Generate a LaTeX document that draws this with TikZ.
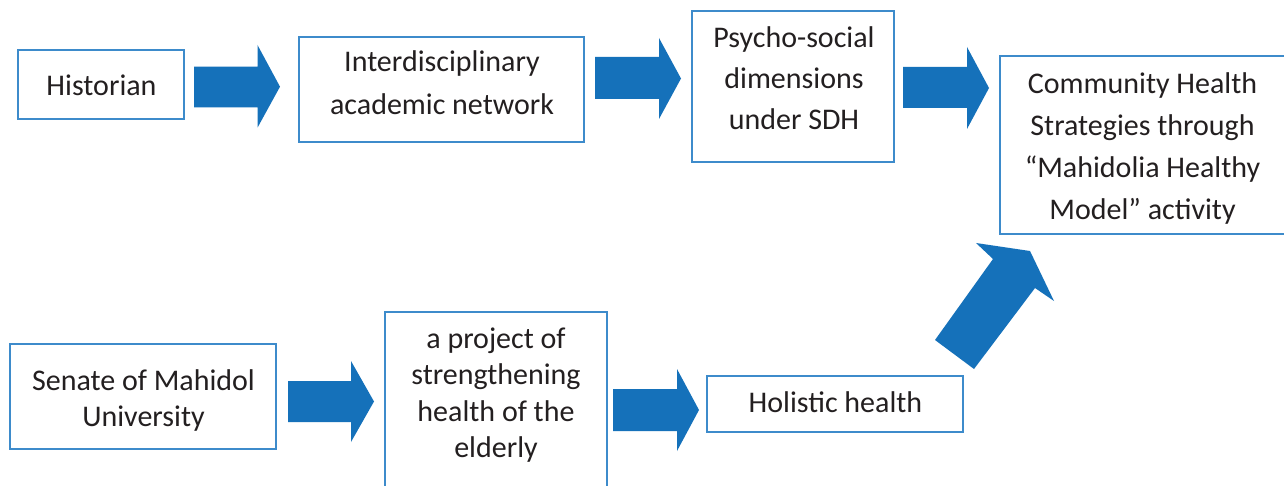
\documentclass[tikz,border=0pt]{standalone}
\usepackage{fontspec}
\setmainfont{Carlito}
\definecolor{arrowblue}{HTML}{1571BA}
\definecolor{boxblue}{HTML}{3D8BCB}
\definecolor{inkgray}{HTML}{231F20}
\begin{document}
\begin{tikzpicture}[x=1pt,y=-1pt,
  box/.style={draw=boxblue,line width=1.4pt,fill=white,inner sep=0pt,outer sep=0pt},
  label/.style={inner sep=0pt,align=center,text=inkgray},
  wide/.style={label,font=\fontsize{30}{42}\selectfont},
  tight/.style={label,font=\fontsize{30}{36.6}\selectfont},
  blockarrow/.style={fill=arrowblue,draw=none}]
\clip (0,0) rectangle (1284,486);
\fill[white] (0,0) rectangle (1284,486);

% boxes (corner coordinates in pixel units)
\draw[box] (18,50) rectangle (184,119) node[pos=0.5,inner sep=0pt] (historianbox) {};
\draw[box] (299,37) rectangle (584,142) node[pos=0.5,inner sep=0pt] (networkbox) {};
\draw[box] (692,11) rectangle (894,162) node[pos=0.5,inner sep=0pt] (psychobox) {};
\draw[box] (1000,56) rectangle (1292,234) node[pos=0.5,inner sep=0pt] (communitybox) {};
\draw[box] (10,344) rectangle (276,449) node[pos=0.5,inner sep=0pt] (senatebox) {};
\draw[box] (385,312) rectangle (607,496) node[pos=0.5,inner sep=0pt] (projectbox) {};
\draw[box] (707,376) rectangle (963,432) node[pos=0.5,inner sep=0pt] (holisticbox) {};

% texts
\node[wide] (historian) at (101.5,85) {Historian};
\node[wide,font=\fontsize{30}{43}\selectfont] (network) at (442,83) {Interdisciplinary\\academic network};
\node[wide,font=\fontsize{30}{41.3}\selectfont] (psycho) at (794,78) {Psycho-social\\dimensions\\under SDH};
\node[wide,font=\fontsize{30}{41.7}\selectfont] (community) at (1142.5,148.5) {Community Health\\Strategies through\\“Mahidolia Healthy\\Model” activity};
\node[tight,font=\fontsize{30}{36}\selectfont] (senate) at (143.5,400.5) {Senate of Mahidol\\University};
\node[tight] (project) at (496,395) {a project of\\strengthening\\health of the\\elderly};
\node[wide] (holistic) at (835.5,402.5) {Holistic health};

% block arrows
\fill[blockarrow] (194,66.7) -- (257.5,66.7) -- (257.5,45) -- (280,86.7) -- (257.5,127.7) -- (257.5,107.3) -- (194,107.3) -- cycle;
\fill[blockarrow] (595,57) -- (659,57) -- (659,38) -- (681,78.5) -- (659,119) -- (659,99) -- (595,99) -- cycle;
\fill[blockarrow] (903,67) -- (967,67) -- (967,47) -- (989,88) -- (967,129) -- (967,108) -- (903,108) -- cycle;
\fill[blockarrow] (288,381) -- (351,381) -- (351,361) -- (374,401.5) -- (351,442) -- (351,422) -- (288,422) -- cycle;
\fill[blockarrow] (613,389) -- (677,389) -- (677,369) -- (699,410) -- (677,451) -- (677,431) -- (613,431) -- cycle;
\fill[blockarrow] (935,340) -- (993,259) -- (976,243) -- (1030,251) -- (1054,301) -- (1035,288) -- (974,369) -- cycle;
\end{tikzpicture}
\end{document}
